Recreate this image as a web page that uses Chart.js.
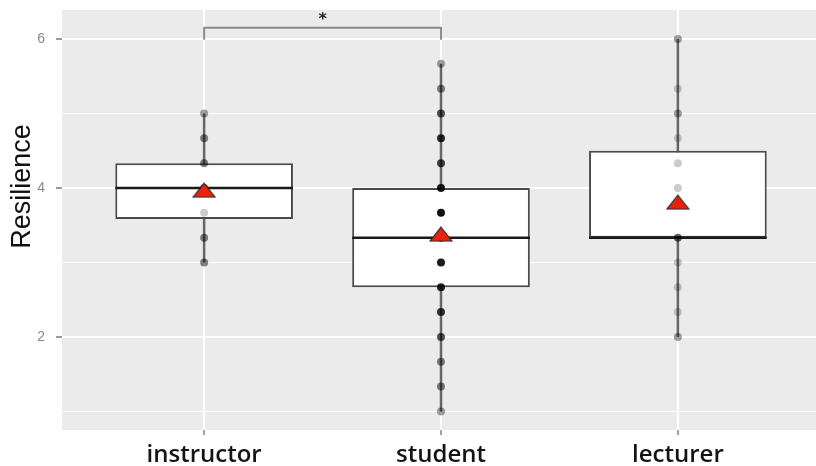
<!DOCTYPE html>
<html>
<head>
<meta charset="utf-8">
<script src="https://cdn.jsdelivr.net/npm/chart.js@4"></script>
<style>
  html, body { margin: 0; padding: 0; background: #fff; overflow: hidden; }
  #wrap { width: 830px; height: 478px; }
</style>
</head>
<body>
<div id="wrap"><canvas id="boxChart"></canvas></div>
<script>
const categories = ['instructor', 'student', 'lecturer'];
const lowerWhisker = [3.0, 1.0, 2.0];
const q1 = [3.583, 2.667, 3.333];
const medians = [4.0, 3.333, 3.333];
const q3 = [4.333, 4.0, 4.5];
const upperWhisker = [5.0, 5.667, 6.0];
const means = [3.97, 3.38, 3.81];

// scores given and how many people gave each one (read from point darkness)
const instructorScores = [3.0, 3.333, 3.667, 4.0, 4.333, 4.667, 5.0];
const instructorCounts = [3, 3, 1, 4, 3, 3, 2];
const studentScores = [1.0, 1.333, 1.667, 2.0, 2.333, 2.667, 3.0, 3.333, 3.667, 4.0, 4.333, 4.667, 5.0, 5.333, 5.667];
const studentCounts = [2, 3, 3, 5, 7, 9, 10, 10, 12, 10, 6, 8, 5, 3, 2];
const lecturerScores = [2.0, 2.333, 2.667, 3.0, 3.333, 4.0, 4.333, 4.667, 5.0, 5.333, 6.0];
const lecturerCounts = [2, 1, 1, 1, 4, 1, 1, 1, 2, 1, 2];

const yMajorTicks = [2, 4, 6];
const yMinorTicks = [1, 3, 5];
const yTitle = 'Resilience';

// significance bracket between instructor and student
const sigPair = [0, 1];
const sigLabel = '*';
const sigTop = 6.15;
const sigFoot = 5.99;

const halfBox = 0.375;
const xOf = i => i + 1;
const pointAlpha = n => 1 - Math.pow(0.8, n);

const scoreSets = [instructorScores, studentScores, lecturerScores];
const countSets = [instructorCounts, studentCounts, lecturerCounts];

// flattened red triangle for the means
const tri = document.createElement('canvas');
tri.width = 24; tri.height = 16;
(function () {
  const t = tri.getContext('2d');
  t.beginPath();
  t.moveTo(12, 1);
  t.lineTo(23, 15);
  t.lineTo(1, 15);
  t.closePath();
  t.fillStyle = '#e8220f';
  t.fill();
  t.lineWidth = 1.2;
  t.strokeStyle = '#2a2a2a';
  t.stroke();
})();

const datasets = [];

categories.forEach((c, i) => {
  datasets.push({
    type: 'line',
    data: [{ x: xOf(i), y: lowerWhisker[i] }, { x: xOf(i), y: upperWhisker[i] }],
    borderColor: '#666666',
    borderWidth: 2.5,
    pointRadius: 0,
    order: 6
  });
});

datasets.push({
  type: 'bar',
  data: categories.map((c, i) => ({ x: xOf(i), y: [q1[i], q3[i]] })),
  backgroundColor: '#ffffff',
  borderColor: '#4a4a4a',
  borderWidth: 2,
  borderSkipped: false,
  barPercentage: 0.75,
  categoryPercentage: 1,
  order: 5
});

categories.forEach((c, i) => {
  datasets.push({
    type: 'line',
    data: [{ x: xOf(i) - halfBox, y: medians[i] }, { x: xOf(i) + halfBox, y: medians[i] }],
    borderColor: '#1a1a1a',
    borderWidth: 2.5,
    pointRadius: 0,
    order: 4
  });
});

const pts = [];
const ptColors = [];
scoreSets.forEach((scores, i) => {
  scores.forEach((s, k) => {
    pts.push({ x: xOf(i), y: s });
    ptColors.push('rgba(0,0,0,' + pointAlpha(countSets[i][k]).toFixed(3) + ')');
  });
});
datasets.push({
  type: 'scatter',
  data: pts,
  backgroundColor: ptColors,
  borderWidth: 0,
  pointRadius: 4,
  order: 3
});

datasets.push({
  type: 'scatter',
  data: categories.map((c, i) => ({ x: xOf(i), y: means[i] })),
  pointStyle: tri,
  pointRadius: 9,
  order: 2
});

datasets.push({
  type: 'line',
  data: [
    { x: xOf(sigPair[0]), y: sigFoot },
    { x: xOf(sigPair[0]), y: sigTop },
    { x: xOf(sigPair[1]), y: sigTop },
    { x: xOf(sigPair[1]), y: sigFoot }
  ],
  borderColor: '#8c8c8c',
  borderWidth: 2,
  pointRadius: 0,
  order: 1
});

const panelBg = {
  id: 'panelBg',
  beforeDraw(chart) {
    const a = chart.chartArea;
    const ctx = chart.ctx;
    ctx.save();
    ctx.fillStyle = '#ebebeb';
    ctx.fillRect(a.left, a.top, a.right - a.left, a.bottom - a.top);
    ctx.restore();
  },
  afterDatasetsDraw(chart) {
    const ctx = chart.ctx;
    const xs = chart.scales.x, ys = chart.scales.y;
    ctx.save();
    ctx.fillStyle = '#222';
    ctx.font = 'bold 16px "DejaVu Sans"';
    ctx.textAlign = 'center';
    ctx.textBaseline = 'middle';
    ctx.fillText(sigLabel, xs.getPixelForValue((xOf(sigPair[0]) + xOf(sigPair[1])) / 2), ys.getPixelForValue(6.26));
    ctx.restore();
  },
  afterDraw(chart) {
    // y axis title, placed a bit above the panel centre as in the source figure
    const ctx = chart.ctx;
    const ys = chart.scales.y;
    ctx.save();
    ctx.translate(23, ys.getPixelForValue(4.02));
    ctx.rotate(-Math.PI / 2);
    ctx.fillStyle = '#111111';
    ctx.font = '27px "Liberation Sans"';
    ctx.textAlign = 'center';
    ctx.textBaseline = 'middle';
    ctx.fillText(yTitle, 0, 0);
    ctx.restore();
  }
};

const ctx = document.getElementById('boxChart').getContext('2d');
new Chart(ctx, {
  type: 'scatter',
  data: { datasets: datasets },
  plugins: [panelBg],
  options: {
    responsive: true,
    maintainAspectRatio: false,
    animation: false,
    layout: { padding: { top: 10, right: 0, left: 0, bottom: 0 } },
    plugins: {
      legend: { display: false },
      tooltip: { enabled: false }
    },
    scales: {
      x: {
        type: 'linear',
        min: 0.4,
        max: 3.6,
        offset: false,
        afterBuildTicks: scale => { scale.ticks = categories.map((c, i) => ({ value: xOf(i) })); },
        afterFit: scale => { scale.height = 48; scale.paddingLeft = 0; scale.paddingRight = 0; },
        border: { display: false },
        grid: { offset: false, color: '#ffffff', lineWidth: 2, tickColor: '#a0a0a0', tickLength: 5 },
        ticks: {
          autoSkip: false,
          maxRotation: 0,
          padding: 6,
          color: '#141414',
          font: { family: '"Open Sans"', size: 24, weight: 600 },
          callback: v => categories[v - 1]
        }
      },
      y: {
        type: 'linear',
        min: 0.75,
        max: 6.39,
        afterBuildTicks: scale => {
          scale.ticks = yMinorTicks.concat(yMajorTicks).sort((a, b) => a - b).map(v => ({ value: v }));
        },
        afterFit: scale => { scale.width = 62; scale.paddingTop = 0; scale.paddingBottom = 0; },
        border: { display: false },
        grid: {
          color: '#ffffff',
          lineWidth: c => (yMajorTicks.includes(c.tick.value) ? 2 : 1),
          tickColor: c => (yMajorTicks.includes(c.tick.value) ? '#9a9a9a' : 'rgba(0,0,0,0)'),
          tickLength: 6
        },
        ticks: {
          padding: 11,
          color: '#8a8a8a',
          font: { family: '"Liberation Sans"', size: 14 },
          callback: v => (yMajorTicks.includes(v) ? v : '')
        }
      }
    }
  }
});
</script>
</body>
</html>
